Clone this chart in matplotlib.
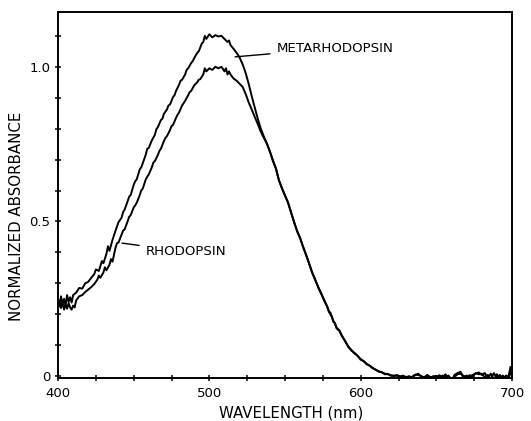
import numpy as np
import matplotlib
matplotlib.use("Agg")
import matplotlib.pyplot as plt
from matplotlib.ticker import MultipleLocator, FixedLocator

# metarhodopsin, rising part up to the crossing point (~538 nm)
meta_wl = [400, 401, 402, 403, 404, 405, 406, 407, 408, 409, 410, 412, 414, 416, 418,
           420, 422, 424, 425, 427, 429, 430, 432, 433, 434, 436, 438, 440, 442, 443,
           444, 446, 447, 448, 450, 451, 452, 454, 455, 456, 458, 459, 460, 462, 464,
           465, 466, 468, 469, 470, 472, 473, 474, 476, 477, 478, 480, 481, 482, 484,
           485, 486, 488, 489, 490, 492, 493, 494, 495, 496, 497, 498, 500, 502, 504,
           506, 508, 510, 512, 513, 514, 516, 518, 520, 522, 524, 526, 528, 530, 532,
           534, 536]
meta_abs = [0.245, 0.225, 0.258, 0.232, 0.250, 0.228, 0.262, 0.240, 0.255, 0.238, 0.262,
            0.270, 0.285, 0.283, 0.300, 0.305, 0.318, 0.330, 0.345, 0.340, 0.372, 0.365,
            0.395, 0.420, 0.405, 0.440, 0.470, 0.498, 0.512, 0.530, 0.538, 0.565, 0.580,
            0.585, 0.618, 0.630, 0.636, 0.668, 0.675, 0.688, 0.716, 0.735, 0.738, 0.762,
            0.780, 0.798, 0.805, 0.828, 0.832, 0.848, 0.862, 0.875, 0.878, 0.902, 0.908,
            0.922, 0.942, 0.955, 0.958, 0.975, 0.990, 0.995, 1.012, 1.018, 1.028, 1.045,
            1.050, 1.062, 1.075, 1.080, 1.100, 1.090, 1.105, 1.095, 1.102, 1.098, 1.100,
            1.090, 1.080, 1.085, 1.070, 1.058, 1.045, 1.030, 1.008, 0.980, 0.945, 0.905,
            0.868, 0.832, 0.800, 0.775]

# rhodopsin, rising part up to the crossing point
rho_wl = [400, 401, 402, 403, 404, 405, 406, 407, 408, 409, 410, 411, 412, 414, 416,
          418, 420, 422, 424, 426, 427, 428, 430, 431, 432, 434, 435, 436, 438, 439,
          440, 442, 443, 444, 446, 447, 448, 450, 451, 452, 454, 455, 456, 458, 459,
          460, 462, 463, 464, 466, 467, 468, 470, 471, 472, 474, 475, 476, 478, 479,
          480, 482, 483, 484, 486, 487, 488, 490, 492, 493, 494, 496, 497, 498, 500,
          502, 504, 506, 508, 510, 511, 512, 513, 514, 516, 518, 520, 522, 524, 526,
          528, 530, 532, 534, 536]
rho_abs = [0.228, 0.245, 0.220, 0.238, 0.215, 0.232, 0.218, 0.236, 0.222, 0.215, 0.228,
           0.222, 0.245, 0.258, 0.262, 0.272, 0.280, 0.288, 0.298, 0.312, 0.325, 0.318,
           0.335, 0.352, 0.342, 0.360, 0.378, 0.370, 0.415, 0.430, 0.432, 0.458, 0.470,
           0.474, 0.500, 0.515, 0.520, 0.545, 0.552, 0.560, 0.585, 0.600, 0.606, 0.636,
           0.645, 0.652, 0.675, 0.690, 0.695, 0.715, 0.728, 0.735, 0.760, 0.770, 0.776,
           0.795, 0.808, 0.812, 0.835, 0.845, 0.852, 0.875, 0.882, 0.890, 0.908, 0.918,
           0.922, 0.940, 0.950, 0.958, 0.960, 0.975, 0.995, 0.985, 0.995, 0.990, 1.000,
           0.995, 1.000, 0.985, 0.995, 0.975, 0.985, 0.975, 0.962, 0.955, 0.945, 0.935,
           0.912, 0.885, 0.862, 0.838, 0.815, 0.790, 0.770]

# falling part, both spectra coincide
tail_wl = [538, 540, 542, 544, 546, 548, 550, 552, 554, 556, 558, 560, 562, 564, 566,
           568, 570, 572, 574, 576, 578, 579, 580, 581, 582, 583, 584, 585, 586, 587,
           588, 590, 592, 594, 596, 598, 600, 602, 604, 606, 608, 610, 612, 614, 616,
           618, 620, 622, 624, 626, 628, 630, 632, 634, 636, 638, 640, 642, 644, 646,
           648, 650, 652, 654, 656, 658, 660, 662, 664, 666, 668, 670, 672, 674, 676,
           678, 680, 682, 684, 686, 688, 690, 692, 694, 696, 698, 699, 700]
tail_abs = [0.752, 0.725, 0.697, 0.672, 0.632, 0.608, 0.585, 0.560, 0.530, 0.497, 0.470,
            0.445, 0.418, 0.392, 0.362, 0.335, 0.310, 0.288, 0.265, 0.245, 0.222, 0.210,
            0.205, 0.190, 0.178, 0.170, 0.158, 0.152, 0.148, 0.135, 0.128, 0.110, 0.095,
            0.082, 0.075, 0.065, 0.055, 0.048, 0.040, 0.033, 0.027, 0.020, 0.016, 0.012,
            0.008, 0.006, 0.003, 0.000, 0.004, -0.002, 0.002, -0.004, 0.000, -0.005,
            0.003, 0.008, -0.002, -0.003, 0.002, -0.006, 0.000, -0.004, 0.003, -0.005,
            0.006, -0.008, -0.018, 0.004, 0.010, 0.014, -0.006, 0.002, -0.004, 0.004,
            0.008, 0.012, 0.004, 0.010, -0.006, 0.008, -0.012, 0.006, -0.008, 0.002,
            -0.015, 0.005, 0.030, 0.010]
tail_abs_rho = [0.752, 0.727, 0.695, 0.670, 0.634, 0.606, 0.583, 0.562, 0.528, 0.499,
                0.468, 0.447, 0.416, 0.390, 0.364, 0.333, 0.312, 0.286, 0.267, 0.243,
                0.225, 0.208, 0.200, 0.193, 0.175, 0.172, 0.155, 0.150, 0.146, 0.137,
                0.126, 0.112, 0.093, 0.084, 0.073, 0.066, 0.053, 0.049, 0.038, 0.034,
                0.025, 0.021, 0.014, 0.013, 0.006, 0.007, 0.001, 0.002, 0.001, 0.000,
                -0.003, -0.002, -0.004, -0.002, 0.005, 0.004, 0.001, -0.006, 0.004,
                -0.003, -0.002, 0.001, -0.004, 0.002, -0.003, 0.002, -0.010, -0.002,
                0.006, 0.008, 0.001, -0.003, 0.003, 0.000, 0.010, 0.006, 0.008, -0.004,
                0.004, -0.010, 0.010, -0.006, 0.004, -0.010, 0.002, -0.004, 0.012, 0.004]

x_ticks = [400, 500, 600, 700]
y_ticks = [0, 0.5, 1.0]
y_ticklabels = ["0", "0.5", "1.0"]

plt.rcParams['font.family'] = ['DejaVu Sans']

fig = plt.figure(figsize=(5.31, 4.21), dpi=100)
ax = fig.add_axes([58 / 531, 43 / 421, 454 / 531, 366 / 421])

ax.plot(meta_wl + tail_wl, meta_abs + tail_abs, color='black', lw=1.4)
ax.plot(rho_wl + tail_wl, rho_abs + tail_abs_rho, color='black', lw=1.4)

ax.set_xlim(400, 700)
ax.set_ylim(-0.006, 1.177)

ax.xaxis.set_major_locator(FixedLocator(x_ticks))
ax.xaxis.set_minor_locator(MultipleLocator(25))
ax.yaxis.set_major_locator(FixedLocator(y_ticks))
ax.set_yticklabels(y_ticklabels)
ax.yaxis.set_minor_locator(MultipleLocator(0.1))
ax.tick_params(which='both', direction='inout', length=5, width=1.1, labelsize=9.5,
               color='black')
ax.tick_params(axis='x', pad=4)
ax.tick_params(axis='y', pad=3)

for sp in ax.spines.values():
    sp.set_linewidth(1.4)

ax.set_xlabel("WAVELENGTH (nm)", fontsize=10.8)
ax.set_ylabel("NORMALIZED ABSORBANCE", fontsize=10.8)
ax.xaxis.set_label_coords(0.513, -0.075)
ax.yaxis.set_label_coords(-0.075, 0.443)

# curve labels with leader lines
ax.annotate("METARHODOPSIN", xy=(517, 1.032), xytext=(544.7, 1.06), fontsize=9.6,
            va='center', ha='left',
            arrowprops=dict(arrowstyle='-', color='black', lw=1.0, shrinkA=3, shrinkB=0))
ax.annotate("RHODOPSIN", xy=(442.3, 0.43), xytext=(458.2, 0.402), fontsize=9.6,
            va='center', ha='left',
            arrowprops=dict(arrowstyle='-', color='black', lw=1.0, shrinkA=3, shrinkB=0))

fig.savefig("out.png", dpi=100)
